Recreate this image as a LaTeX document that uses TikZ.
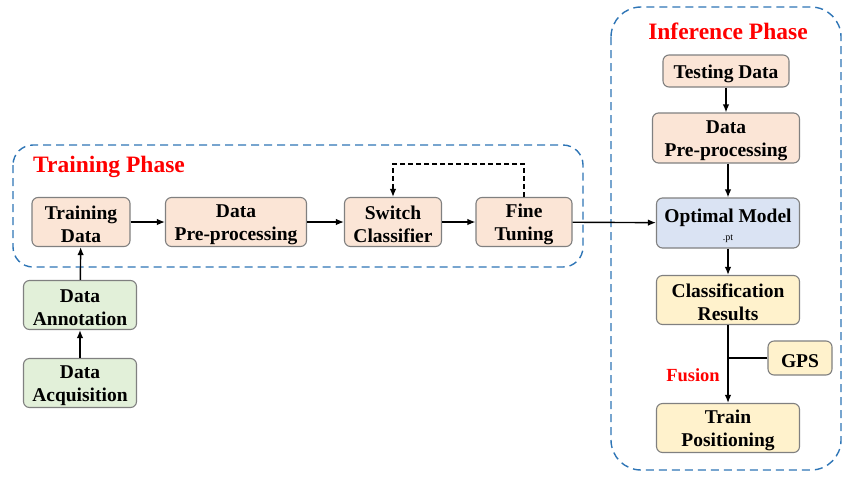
\documentclass[tikz,border=0pt]{standalone}
\usepackage{fontspec}
\setmainfont{Liberation Serif}
\usetikzlibrary{arrows.meta}
\definecolor{peach}{HTML}{FBE5D6}
\definecolor{leaf}{HTML}{E2F0D9}
\definecolor{sky}{HTML}{DAE3F3}
\definecolor{cream}{HTML}{FFF2CC}
\definecolor{rim}{HTML}{808080}
\definecolor{phaseblue}{HTML}{2E75B6}
\newcommand\boxstrut{\rule{0pt}{18.5pt}}

\begin{document}
\begin{tikzpicture}[x=1pt,y=-1pt,
    box/.style={draw=rim,line width=1.1pt,rounded corners=6pt,align=center,
        inner sep=0pt,minimum height=49pt,
        font=\bfseries\fontsize{19.5}{23}\selectfont},
    phase/.style={draw=phaseblue,line width=1.4pt,dash pattern=on 8pt off 5pt},
    title/.style={text=red,font=\bfseries\fontsize{23.5}{26}\selectfont},
    flow/.style={line width=1.4pt,-{Latex[length=8pt,width=6.5pt]}}]
    \useasboundingbox (0,0) rectangle (842,477);

    % phases
    \draw[phase,rounded corners=20pt] (13,145) rectangle (583,267);
    \draw[phase,rounded corners=30pt] (611,7) rectangle (841,470);
    \node[title] (tp) at (109,167) {Training Phase};
    \node[title] (ip) at (728,31) {Inference Phase};

    % training
    \node[box,fill=peach,minimum width=98pt] (td) at (81,222) {\boxstrut Training\\Data};
    \node[box,fill=peach,minimum width=141pt] (pre) at (236,222) {\boxstrut Data\\Pre-processing};
    \node[box,fill=peach,minimum width=97pt] (sc) at (393,222) {\boxstrut Switch\\Classifier};
    \node[box,fill=peach,minimum width=96pt] (ft) at (524,222) {\boxstrut Fine\\Tuning};
    \node[box,fill=leaf,minimum width=113pt] (ann) at (80,305) {\boxstrut Data\\Annotation};
    \node[box,fill=leaf,minimum width=113pt] (acq) at (80,383) {\boxstrut Data\\Acquisition};

    % inference
    \node[box,fill=peach,minimum width=126pt,minimum height=32pt] (test) at (726,71) {\boxstrut Testing Data};
    \node[box,fill=peach,minimum width=147pt,minimum height=50pt] (pre2) at (726,138) {\boxstrut Data\\Pre-processing};
    \node[box,fill=sky,minimum width=143pt,minimum height=50pt] (om) at (728,223)
        {\boxstrut Optimal Model\\[-5pt]{\mdseries\fontsize{10}{11}\selectfont .pt}};
    \node[box,fill=cream,minimum width=143pt] (cr) at (728,300) {\boxstrut Classification\\Results};
    \node[box,fill=cream,minimum width=64pt,minimum height=34pt] (gps) at (800,358) {\boxstrut GPS};
    \node[box,fill=cream,minimum width=143pt] (pos) at (728,428) {\boxstrut Train\\Positioning};
    \node[text=red,font=\bfseries\fontsize{18.5}{22}\selectfont] (fus) at (693,375) {Fusion};

    \draw[flow] (acq) -- (ann);
    \draw[flow] (ann) -- (td);
    \draw[flow] (td) -- (pre);
    \draw[flow] (pre) -- (sc);
    \draw[flow] (sc) -- (ft);
    \draw[flow,dash pattern=on 5pt off 3pt] (ft.north) -- ++(0,-33) -| (sc.north);
    \draw[flow] (ft) -- (om);
    \draw[flow] (test) -- (pre2);
    \draw[flow] (pre2.south -| om) -- (om);
    \draw[flow] (om) -- (cr);
    \draw[flow] (cr) -- (pos);
    \draw[line width=1.4pt] (gps) -- (gps -| cr);
\end{tikzpicture}
\end{document}
